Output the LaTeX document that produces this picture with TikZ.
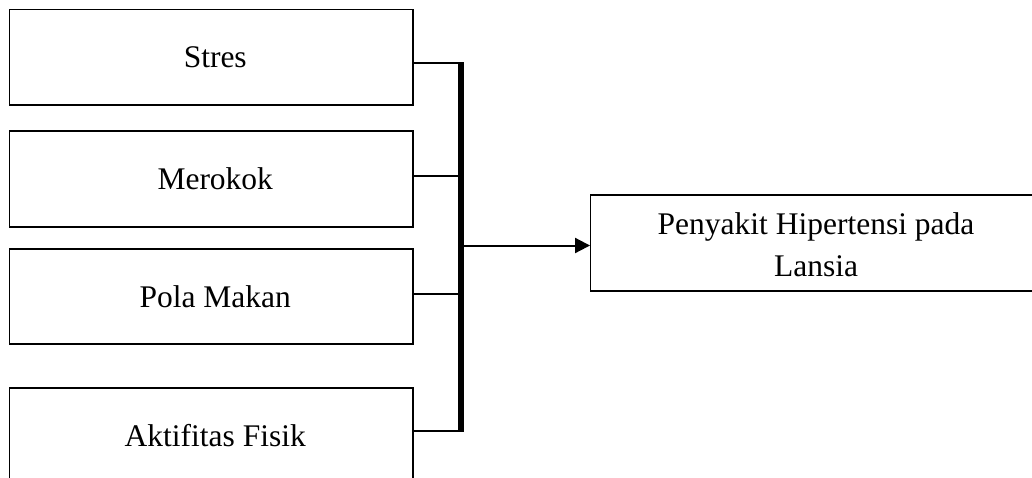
\documentclass[tikz,border=0pt]{standalone}
\usepackage{fontspec}
\setmainfont{Liberation Serif}
\usetikzlibrary{arrows.meta}
\tikzset{
  txt/.style={font=\fontsize{31.5}{42}\selectfont},
  factor/.style={draw, line width=1.3pt, minimum width=403.5pt, inner sep=0pt, txt,
    execute at begin node={\hspace*{8pt}}},
  conn/.style={line width=2pt},
  bus/.style={line width=6pt},
  arr/.style={line width=2pt, -{Triangle[length=15pt,width=15pt]}},
}
\begin{document}
\begin{tikzpicture}[x=1pt,y=-1pt]
\useasboundingbox (0,0) rectangle (1032,477);
\clip (0,0) rectangle (1032,477);
\fill[white] (0,0) rectangle (1032,477);
\node[factor, minimum height=95.5pt] (s1) at (211.25,57.25) {Stres};
\node[factor, minimum height=96pt] (s2) at (211.25,179) {Merokok};
\node[factor, minimum height=95pt] (s3) at (211.25,296.5) {Pola Makan};
\node[factor, minimum height=95pt] (s4) at (211.25,435.5) {Aktifitas Fisik};
\node[draw, line width=1.3pt, minimum width=460pt, minimum height=96pt, inner sep=0pt] (h) at (820.7,243) {};
\node[align=center, inner sep=0pt, txt] (ht) at (816,245) {Penyakit Hipertensi pada\\Lansia};
\coordinate (b1) at (461,63);
\coordinate (b2) at (461,176);
\coordinate (b3) at (461,294);
\coordinate (b4) at (461,431);
\coordinate (a0) at (461,245.5);
\draw[bus] ([yshift=1pt]b1) -- ([yshift=-1pt]b4);
\draw[conn] (s1.east |- b1) -- (b1);
\draw[conn] (s2.east |- b2) -- (b2);
\draw[conn] (s3.east |- b3) -- (b3);
\draw[conn] (s4.east |- b4) -- (b4);
\draw[arr] (a0) -- (h.west |- a0);
\end{tikzpicture}
\end{document}
